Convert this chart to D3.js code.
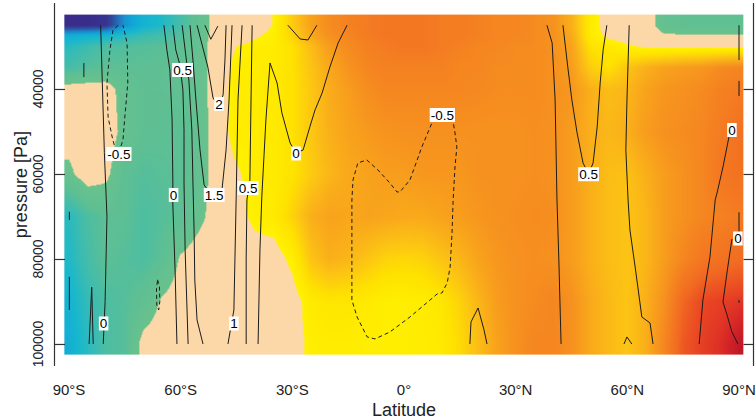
<!DOCTYPE html>
<html><head><meta charset="utf-8">
<script src="https://cdn.jsdelivr.net/npm/d3@7/dist/d3.min.js"></script>
<style>
html,body{margin:0;padding:0;background:#fff;}
svg{display:block;font-family:"Liberation Sans",Arial,Helvetica,sans-serif;}
</style></head><body>
<svg id="chart" width="756" height="419"></svg>
<script>
// ---------------- data ----------------
const lats = d3.range(-90, 91, 5);           // 37 columns
const pressures = [25000,27500,30000,35000,40000,50000,60000,70000,80000,90000,100000];
// filled field, one row per pressure level, one value per latitude
const field = [
 [-3.0,-3.0,-2.9,-2.0,-1.5,-1.3,-0.9,-0.45,0.0,0.0,0.0,0.22,0.9,1.5,1.9,2.1,2.2,2.3,2.3,2.3,2.2,2.2,2.1,2.0,2.0,1.9,1.8,1.3,0.4,0.0,0.0,0.0,-0.4,-0.5,-0.5,-0.5,-0.5],
 [-1.6,-1.5,-1.4,-1.2,-1.0,-0.9,-0.7,-0.4,0.0,0.0,0.15,0.3,0.8,1.4,1.8,2.0,2.2,2.3,2.3,2.3,2.2,2.2,2.1,2.0,2.0,1.9,1.8,1.4,0.4,0.1,0.0,0.0,-0.15,-0.15,-0.15,-0.15,-0.15],
 [-1.2,-1.0,-0.8,-0.75,-0.7,-0.65,-0.6,-0.35,0.0,0.2,0.3,0.35,0.6,1.1,1.6,1.9,2.1,2.2,2.3,2.3,2.2,2.1,2.0,2.0,1.9,1.9,1.8,1.5,0.6,0.45,0.25,0.15,0.12,0.12,0.12,0.12,0.12],
 [-0.9,-0.7,-0.6,-0.6,-0.6,-0.55,-0.5,-0.35,0.0,0.3,0.35,0.4,0.6,1.0,1.4,1.75,2.0,2.1,2.1,2.1,2.1,2.0,2.0,1.9,1.9,1.9,1.8,1.6,0.9,0.6,1.0,1.3,1.5,1.6,1.7,1.9,2.0],
 [0.0,0.0,0.0,-0.4,-0.55,-0.55,-0.5,-0.35,0.0,0.35,0.35,0.4,0.6,0.95,1.35,1.6,1.85,2.0,2.0,2.0,2.0,2.0,1.95,1.9,1.9,1.9,1.8,1.7,1.3,1.1,1.2,1.5,1.7,1.8,1.9,2.1,2.2],
 [0.0,0.0,0.05,-0.35,-0.55,-0.6,-0.6,-0.4,0.0,0.35,0.35,0.4,0.6,0.95,1.3,1.5,1.65,1.75,1.8,1.8,1.8,1.8,1.8,1.8,1.8,1.85,1.8,1.6,1.3,1.2,1.3,1.6,1.8,1.9,2.0,2.2,2.4],
 [-0.3,0.05,-0.1,-0.6,-0.7,-0.65,-0.6,-0.4,0.0,0.15,0.35,0.4,0.55,0.9,1.2,1.4,1.5,1.6,1.6,1.7,1.7,1.7,1.8,1.8,1.8,1.85,1.8,1.6,1.3,1.1,1.05,1.3,1.6,1.8,2.0,2.3,2.4],
 [-1.2,-0.8,-0.6,-0.6,-0.8,-0.7,-0.6,-0.3,0.0,0.05,0.3,0.4,0.8,1.3,1.5,1.45,1.5,1.45,1.4,1.4,1.5,1.6,1.7,1.8,1.85,1.9,1.85,1.6,1.3,1.1,1.0,1.2,1.6,1.8,2.0,2.1,2.2],
 [-1.3,-0.9,-0.6,-0.7,-0.8,-0.6,-0.15,0.0,0.0,0.0,0.0,0.0,0.3,1.0,1.3,1.2,1.0,0.8,0.75,0.8,1.0,1.2,1.5,1.7,1.8,1.85,1.8,1.6,1.3,1.1,1.0,1.2,1.6,2.0,2.3,2.4,2.5],
 [-1.5,-1.1,-0.8,-0.7,-0.5,-0.15,0.0,0.0,0.0,0.0,0.0,0.0,0.0,0.4,0.5,0.5,0.4,0.3,0.3,0.35,0.5,0.8,1.2,1.6,1.8,1.9,2.0,1.8,1.4,1.15,1.0,1.3,1.8,2.6,3.0,3.1,3.2],
 [-1.6,-1.2,-0.8,-0.7,-0.05,0.0,0.0,0.0,0.0,0.0,0.0,0.0,0.0,0.3,0.35,0.35,0.3,0.3,0.3,0.35,0.4,0.7,1.1,1.5,1.8,2.0,2.0,1.8,1.4,1.15,1.0,1.3,2.0,2.8,3.1,3.3,3.7]
];
// colour palette
const lowStops  = [-3.0,-2.6,-2.2,-1.8,-1.4,-1.0,-0.6,-0.2];
const lowColors = ["#3a2c8a","#2f4c9f","#1f7fc4","#12a6d8","#17b7cf","#3dbcb0","#5ebf94","#6ac28c"];
const beigeColor = "#fcd8a9";
const highStops  = [0.2,0.6,1.0,1.4,1.8,2.2,2.6,3.0,3.4,3.8];
const highColors = ["#fff200","#fee200","#fcc414","#f9a91b","#f6911f","#f47c21","#f16822","#ea4823","#d82726","#b8152a"];

// contour lines: [latitude, pressure]
const contSW0      = [[-81.5,25000],[-81,40000],[-80.5,55000],[-79.8,70000],[-80.3,90000],[-80.8,100000]];
const contSWneg    = [[-76.8,25000],[-78.2,26200],[-79,30800],[-79.8,38600],[-79.5,46600],[-78.4,51300],[-77,56000],[-75.5,52000],[-75,46600],[-74.2,38600],[-74.4,29200],[-75.5,25000]];
const contEdge1    = [[-86,33900],[-86,37200]];
const contEdge2    = [[-89.9,68900],[-89.9,70800]];
const contEdge3    = [[-89.9,84200],[-89.9,92000]];
const contSWv      = [[-84.6,100000],[-83.9,86660],[-83.5,100000]];
const contSnegSmall= [[-66.2,84900],[-65.7,86500],[-65.6,90000],[-65.9,92000],[-66.4,91000],[-66.5,87000],[-66.2,84900]];
const contS0a      = [[-64.5,25000],[-63.7,30820],[-62.9,35530],[-62.3,47290],[-62.1,62120],[-62.1,67290],[-61.5,82590],[-61.0,100000]];
const contS05a     = [[-62.1,25000],[-61.3,30820],[-60.2,34350],[-59.4,40240],[-59.1,49650],[-59.1,62120],[-58.8,77880],[-58.0,100000]];
const contS1a      = [[-59.6,25000],[-58.8,30820],[-57.8,37880],[-57.0,49650],[-56.7,62120],[-56.4,73180],[-56.2,84940],[-55.6,94350],[-54.0,100000]];
const contS15      = [[-57.5,25000],[-56.7,33180],[-55.9,42590],[-54.8,54350],[-53.7,62590],[-51.3,65410],[-48.9,63760],[-47.8,54350],[-47.0,42590],[-46.2,25000]];
const contS2       = [[-55.6,25000],[-52.7,34820],[-51.3,42120],[-49.7,44000],[-48.6,41410],[-48.1,33180],[-47.8,25000]];
const contS25      = [[-53.5,25000],[-51.9,28300],[-50.0,25200]];
const contS1b      = [[-43.5,25000],[-44.6,42590],[-45.1,66120],[-45.7,92000],[-47.3,100000]];
const contS05b     = [[-40.8,25000],[-41.1,42590],[-41.4,61410],[-42.2,66120],[-42.4,80000],[-42.4,100000]];
const contS0b      = [[-39.2,100000],[-38.7,77880],[-38.2,65410],[-37.1,47290],[-36.0,33880],[-34.1,38590],[-32.8,45650],[-30.6,52710],[-29.0,55060],[-27.1,54350],[-25.3,48940],[-23.9,44940],[-22.0,40940],[-19.9,34820],[-17.7,29180],[-15.3,25000]];
const contSU       = [[-31.2,25000],[-27.9,28240],[-25.8,28470],[-23.4,25000]];
const contEqNeg    = [[10.3,46120],[7.5,48000],[4.8,53650],[1.6,61410],[-1.1,64230],[-1.9,64230],[-3.8,62120],[-7.0,59060],[-10.0,56700],[-12.4,57410],[-13.7,61410],[-14.0,66120],[-14.0,89650],[-12.6,93650],[-9.9,98350],[-7.8,98820],[-3.8,97180],[1.6,93650],[7.0,89650],[8.9,88240],[10.2,88000],[11.6,85650],[12.4,81880],[12.9,73880],[13.2,66120],[13.7,58350],[14.2,53650],[13.7,50350],[13.2,47760],[10.3,46120]];
const contEqV      = [[17.7,100000],[18.0,94820],[19.9,91530],[21.5,96700],[22.3,100000]];
const contN1       = [[38.4,25000],[39.8,29180],[40.6,42590],[41.1,66120],[41.6,80240],[42.2,100000]];
const contN05      = [[42.7,25000],[44.0,34820],[45.1,42590],[46.5,50350],[48.1,57410],[49.6,60000],[50.8,57410],[51.9,48940],[52.7,38590],[53.5,30820],[54.5,25000]];
const contN3       = [[60.5,25000],[59.9,42590],[59.6,54350],[60.2,66120],[60.7,73180],[62.1,81880],[63.9,93650],[66.1,95060],[66.9,100000]];
const contN3v      = [[59.1,100000],[59.9,98350],[61.2,100000]];
const contNE1      = [[90,25000],[90,33200]];
const contNE2      = [[90,38100],[90,41650]];
const contN4       = [[88.8,48300],[87.3,51300],[85.7,58350],[84.1,64470],[83.6,66120],[82.2,79530],[80.3,89650],[79.3,100000]];
const contNE3      = [[90,69000],[90,73700]];
const contNE4      = [[90,89650],[90,90350]];
const contN5       = [[88.1,75300],[86.8,83060],[85.7,90120],[86.8,93180],[88.1,97180],[89.7,100000]];

const contourLevels = [
  [0,contSW0],[-0.5,contSWneg],[0,contEdge1],[0,contEdge2],[0,contEdge3],[0,contSWv],[-0.5,contSnegSmall],
  [0,contS0a],[0.5,contS05a],[1,contS1a],[1.5,contS15],[2,contS2],[2.5,contS25],[1,contS1b],[0.5,contS05b],[0,contS0b],[0,contSU],
  [-0.5,contEqNeg],[0,contEqV],[0,contN1],[0.5,contN05],[0,contN3],[0,contN3v],[0,contNE1],[0,contNE2],[0,contN4],[0,contNE3],[0,contNE4],[0,contN5]
];
const labelTexts = ["0.5","2","-0.5","0","1.5","0.5","0","0","1","-0.5","0.5","0","0"];
const labelLats  = [-59.5,-49.7,-76.6,-61.9,-51.0,-41.9,-29.0,-80.7,-45.7,10.3,49.6,88.1,89.7];
const labelPres  = [35530,43530,55290,64940,64940,63300,55180,95180,95180,46120,60060,49650,75180];

const xTicks = [-90,-60,-30,0,30,60,90];
const xTickLabels = ["90°S","60°S","30°S","0°","30°N","60°N","90°N"];
const yTicks = [40000,60000,80000,100000];
const xTitle = "Latitude", yTitle = "pressure [Pa]";

// ---------------- drawing ----------------
const svg = d3.select("#chart");
const x = d3.scaleLinear().domain([-90, 90]).range([69, 739]);
const y = d3.scaleLinear().domain([22500, 102500]).range([14.6, 354.6]);

// heat map
const latIdx = d3.scaleLinear().domain(lats).range(d3.range(lats.length)).clamp(true);
const pIdx = d3.scaleLinear().domain(pressures).range(d3.range(pressures.length)).clamp(true);
function valueAt(lat, p) {
  const fi = latIdx(lat), fj = pIdx(p);
  const i0 = Math.min(Math.floor(fi), lats.length - 2), j0 = Math.min(Math.floor(fj), pressures.length - 2);
  const ti = fi - i0, tj = fj - j0;
  const a = field[j0][i0], b = field[j0][i0+1], c = field[j0+1][i0], d = field[j0+1][i0+1];
  return (a*(1-ti) + b*ti)*(1-tj) + (c*(1-ti) + d*ti)*tj;
}
const lowScale = d3.scaleLinear().domain(lowStops).range(lowColors).clamp(true);
const highScale = d3.scaleLinear().domain(highStops).range(highColors).clamp(true);
function colorOf(v) { return v <= -0.2 ? lowScale(v) : (v < 0.2 ? beigeColor : highScale(v)); }
const LUTN = 2000, lutMin = -3.5, lutMax = 4.2;
const lut = d3.range(LUTN).map(k => d3.rgb(colorOf(lutMin + (lutMax - lutMin) * k / (LUTN - 1))));

const ix0 = x(-91.25), ix1 = x(91.25), iy0 = y(22500), iy1 = y(102500);
const cw = Math.round(ix1 - ix0), ch = Math.round(iy1 - iy0);
const canvas = document.createElement("canvas");
canvas.width = cw; canvas.height = ch;
const ctx = canvas.getContext("2d");
const img = ctx.createImageData(cw, ch);
for (let j = 0; j < ch; j++) {
  const p = y.invert(iy0 + j + 0.5);
  for (let i = 0; i < cw; i++) {
    const lat = x.invert(ix0 + i + 0.5);
    const v = valueAt(lat, p);
    let k = Math.round((v - lutMin) / (lutMax - lutMin) * (LUTN - 1));
    k = Math.max(0, Math.min(LUTN - 1, k));
    const c = lut[k], o = (j * cw + i) * 4;
    img.data[o] = c.r; img.data[o+1] = c.g; img.data[o+2] = c.b; img.data[o+3] = 255;
  }
}
ctx.putImageData(img, 0, 0);
svg.append("image").attr("x", ix0).attr("y", iy0).attr("width", cw).attr("height", ch)
  .attr("preserveAspectRatio", "none").attr("href", canvas.toDataURL());

// contour lines
const line = d3.line().x(d => x(d[0])).y(d => y(d[1]));
svg.append("g").selectAll("path").data(contourLevels).join("path")
  .attr("d", d => line(d[1]))
  .attr("fill", "none").attr("stroke", "#1b1b1b").attr("stroke-width", 1)
  .attr("stroke-dasharray", d => d[0] < 0 ? "4,3" : null);

// contour labels
const lg = svg.append("g").attr("font-size", 13.5);
labelTexts.forEach((t, i) => {
  const cx = x(labelLats[i]), cy = y(labelPres[i]);
  const tx = lg.append("text").attr("x", cx).attr("y", cy).attr("text-anchor", "middle")
    .attr("dy", "0.36em").attr("fill", "#000").text(t);
  const bb = tx.node().getBBox();
  lg.insert("rect", "text").attr("x", bb.x - 1).attr("y", cy - 7).attr("width", bb.width + 2).attr("height", 14).attr("fill", "#fff");
});

// axes
const axCol = "#333";
const yTop = y.invert(3), yBot = y.invert(366);
svg.append("line").attr("x1", 54.5).attr("x2", 54.5).attr("y1", y(yTop)).attr("y2", y(yBot)).attr("stroke", axCol).attr("stroke-width", 1.2);
svg.append("line").attr("x1", 753.5).attr("x2", 753.5).attr("y1", y(yTop)).attr("y2", y(yBot)).attr("stroke", axCol).attr("stroke-width", 1.2);
svg.append("g").attr("transform", "translate(54.5,0)")
  .call(d3.axisRight(y).tickValues(yTicks).tickSize(10.5).tickFormat(""))
  .call(g => { g.select(".domain").remove(); g.selectAll("line").attr("stroke", axCol).attr("stroke-width", 1.2); });
svg.append("g").attr("transform", "translate(753.5,0)")
  .call(d3.axisLeft(y).tickValues(yTicks).tickSize(10).tickFormat(""))
  .call(g => { g.select(".domain").remove(); g.selectAll("line").attr("stroke", axCol).attr("stroke-width", 1.2); });

svg.append("g").selectAll("text").data(yTicks).join("text")
  .attr("transform", d => `translate(43,${y(d)}) rotate(-90)`)
  .attr("text-anchor", "middle").attr("font-size", 14).attr("fill", "#222").text(d => d);
svg.append("g").selectAll("text").data(xTicks).join("text")
  .attr("x", d => x(d)).attr("y", 395).attr("text-anchor", "middle")
  .attr("font-size", 15).attr("fill", "#222").text((d, i) => xTickLabels[i]);
svg.append("text").attr("x", x(0)).attr("y", 416).attr("text-anchor", "middle")
  .attr("font-size", 18).attr("fill", "#222").text(xTitle);
svg.append("text").attr("transform", `translate(27,${(y(22500)+y(102500))/2}) rotate(-90)`)
  .attr("text-anchor", "middle").attr("font-size", 18).attr("fill", "#222").text(yTitle);
</script>
</body></html>
